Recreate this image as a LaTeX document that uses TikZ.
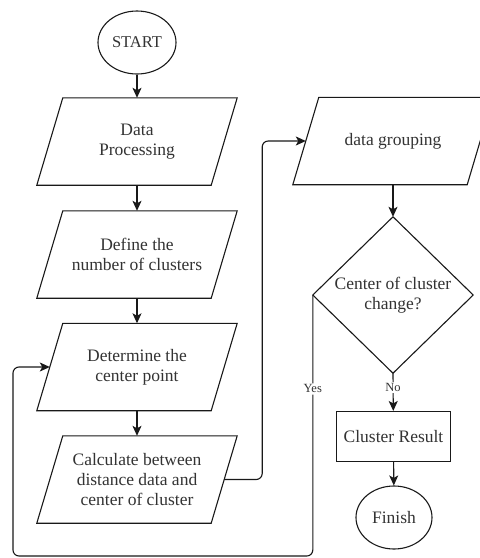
\documentclass[tikz,border=0pt]{standalone}
\usepackage{fontspec}
\setmainfont{Liberation Serif}
\usetikzlibrary{arrows.meta,calc,shapes.geometric}
\begin{document}
\begin{tikzpicture}[x=1pt,y=-1pt,
  line/.style={line width=1.1pt, draw=black!90},
  arr/.style={line, -{Stealth[length=10pt,width=9pt,inset=2.5pt]}},
  txt/.style={font=\fontsize{17.5}{20}\selectfont, align=center, inner sep=0pt, text=black!80},
  box/.style={txt, minimum width=174pt, minimum height=87pt},
  term/.style={txt, ellipse, line, draw},
  lbl/.style={font=\fontsize{12.5}{14}\selectfont, fill=white, inner sep=1.5pt, text=black!80}]
\useasboundingbox (0,0) rectangle (480,558);
\clip (0,0) rectangle (480,558);
\fill[white] (0,0) rectangle (480,558);

\node[term, minimum width=78pt, minimum height=63pt, font=\fontsize{16.5}{20}\selectfont] (start) at (137,42.5) {START};
\node[box] (dp) at (137,141.5) {Data\\Processing};
\node[box] (def) at (137,254.5) {Define the\\number of clusters};
\node[box] (det) at (137,367) {Determine the\\center point};
\node[box] (calc) at (137,479.5) {Calculate between\\distance data and\\center of cluster};
\node[box] (grp) at (393,141) {data grouping};
\node[txt, minimum width=160pt, minimum height=156pt] (dec) at (393,295) {Center of cluster\\change?};
\node[txt, draw, line, minimum width=114pt, minimum height=50pt] (res) at (393.5,436.5) {Cluster Result};
\node[term, minimum width=76pt, minimum height=63pt] (fin) at (394,517.5) {Finish};

\foreach \n in {dp,def,det,calc,grp}
  \draw[line, line join=miter] ([xshift=13pt]\n.north west) -- ([xshift=13pt]\n.north east)
     -- ([xshift=-13pt]\n.south east) -- ([xshift=-13pt]\n.south west) -- cycle;
\draw[line, line join=miter] (dec.north) -- (dec.east) -- (dec.south) -- (dec.west) -- cycle;

\draw[arr] (start) -- (dp);
\draw[arr] (dp) -- (def);
\draw[arr] (def) -- (det);
\draw[arr] (det) -- (calc);
\draw[arr, rounded corners=6pt] (calc.east) -- ++(38,0) |- (grp.west);
\draw[arr] (grp) -- (dec.north);
\draw[arr] (dec.south) -- node[lbl, pos=0.37] {No} (res);
\draw[arr] (res) -- (fin);
\coordinate (lb) at (13,556);
\draw[arr, rounded corners=6pt] (dec.west) -- node[lbl, pos=0.36] {Yes} (dec.west |- lb) -- (lb) -- (lb |- det.west) -- (det.west);
\end{tikzpicture}
\end{document}
